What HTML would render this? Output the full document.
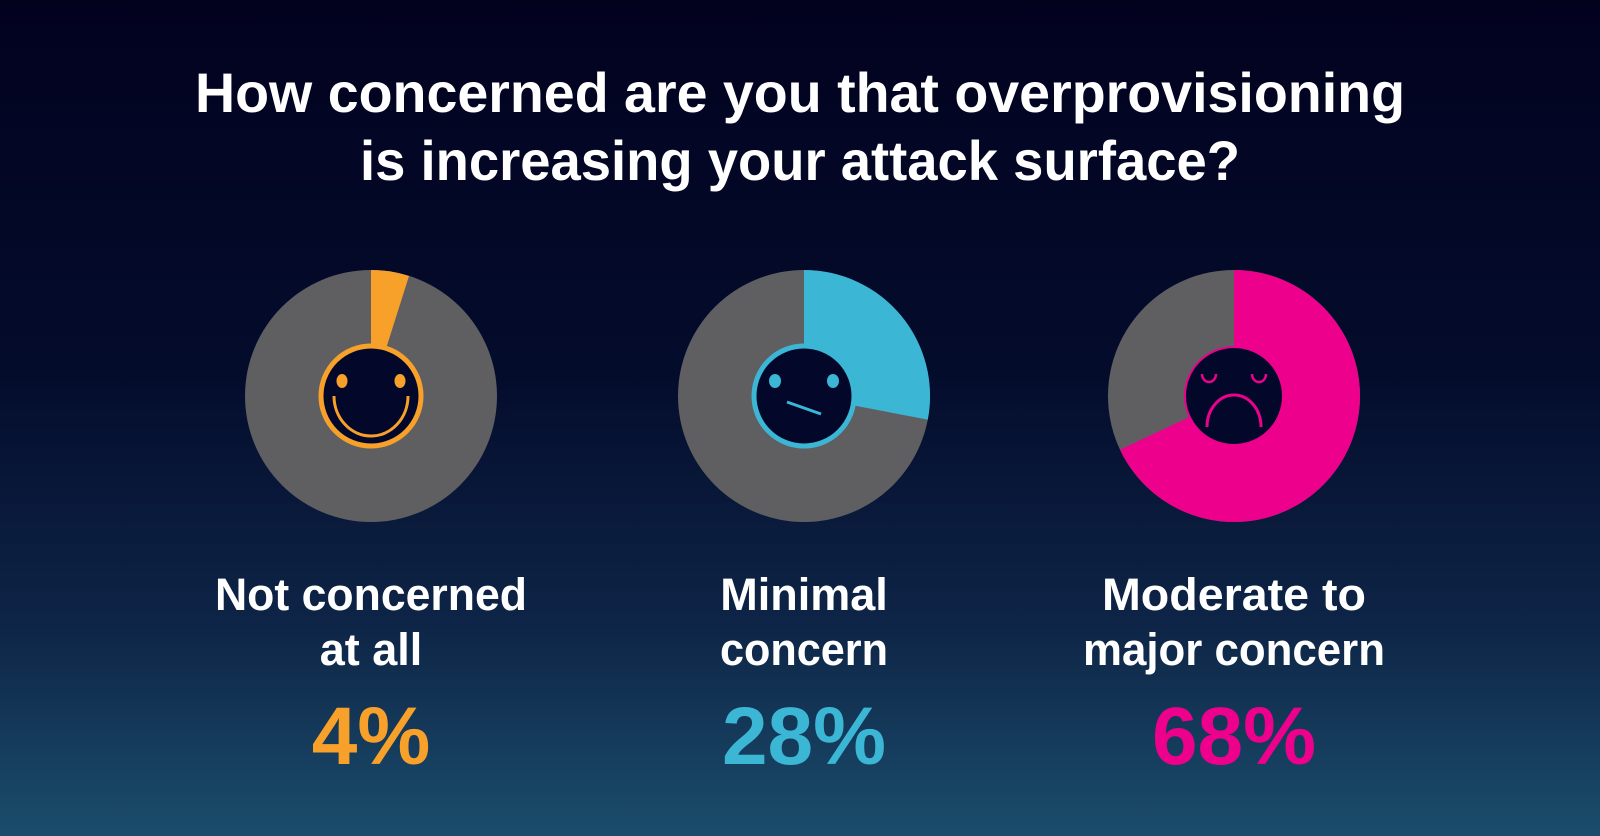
<!DOCTYPE html>
<html><head><style>
html,body{margin:0;padding:0}
body{width:1600px;height:836px;overflow:hidden;background:linear-gradient(to bottom,#02021f 0%,#040c2c 45%,#0e2547 75%,#1b4d6c 100%);font-family:"Liberation Sans",sans-serif;}
</style></head><body>
<svg width="1600" height="836" viewBox="0 0 1600 836" xmlns="http://www.w3.org/2000/svg" style="position:absolute;left:0;top:0">
<g font-family="Liberation Sans, sans-serif" font-weight="bold" fill="#fff" text-anchor="middle">
<text x="800" y="112" font-size="56" textLength="1210" lengthAdjust="spacingAndGlyphs">How concerned are you that overprovisioning</text>
<text x="800" y="180" font-size="56" textLength="880" lengthAdjust="spacingAndGlyphs">is increasing your attack surface?</text>
<text x="371" y="610" font-size="45" textLength="312" lengthAdjust="spacingAndGlyphs">Not concerned</text>
<text x="371" y="665" font-size="45">at all</text>
<text x="804" y="610" font-size="45">Minimal</text>
<text x="804" y="665" font-size="45" textLength="168" lengthAdjust="spacingAndGlyphs">concern</text>
<text x="1234" y="610" font-size="45" textLength="264" lengthAdjust="spacingAndGlyphs">Moderate to</text>
<text x="1234" y="665" font-size="45" textLength="302" lengthAdjust="spacingAndGlyphs">major concern</text>
<text x="371" y="764" font-size="82" fill="#f7a12b">4%</text>
<text x="804" y="764" font-size="82" fill="#3bb6d5">28%</text>
<text x="1234" y="764" font-size="82" fill="#ec008c">68%</text>
</g>
<!-- pie 1 -->
<circle cx="371" cy="396" r="126" fill="#5f5f61"/>
<path d="M371 396 L371 270 A126 126 0 0 1 409 276 Z" fill="#f7a12b"/>
<circle cx="371" cy="396" r="50" fill="#03082a" stroke="#f7a12b" stroke-width="5"/>
<ellipse cx="342" cy="381" rx="5.5" ry="7" fill="#f7a12b"/>
<ellipse cx="400" cy="381" rx="5.5" ry="7" fill="#f7a12b"/>
<path d="M334 396 A37 40 0 0 0 408 396" fill="none" stroke="#f7a12b" stroke-width="3"/>
<!-- pie 2 -->
<circle cx="804" cy="396" r="126" fill="#5f5f61"/>
<path d="M804 396 L804 270 A126 126 0 0 1 927.8 419.6 Z" fill="#3bb6d5"/>
<circle cx="804" cy="396" r="50" fill="#03082a" stroke="#3bb6d5" stroke-width="5"/>
<ellipse cx="775" cy="381" rx="6" ry="7" fill="#3bb6d5"/>
<ellipse cx="833" cy="381" rx="6" ry="7" fill="#3bb6d5"/>
<line x1="787" y1="402" x2="821" y2="414" stroke="#3bb6d5" stroke-width="3"/>
<!-- pie 3 -->
<circle cx="1234" cy="396" r="126" fill="#5f5f61"/>
<path d="M1234 396 L1234 270 A126 126 0 1 1 1120 449.7 Z" fill="#ec008c"/>
<circle cx="1234" cy="396" r="49" fill="#03082a" stroke="#ec008c" stroke-width="2"/>
<path d="M1202 374 A7 8 0 0 0 1216 374" fill="none" stroke="#ec008c" stroke-width="2.5"/>
<path d="M1252 374 A7 8 0 0 0 1266 374" fill="none" stroke="#ec008c" stroke-width="2.5"/>
<path d="M1207 427 A27 32 0 0 1 1261 427" fill="none" stroke="#ec008c" stroke-width="3"/>
</svg>
</body></html>
